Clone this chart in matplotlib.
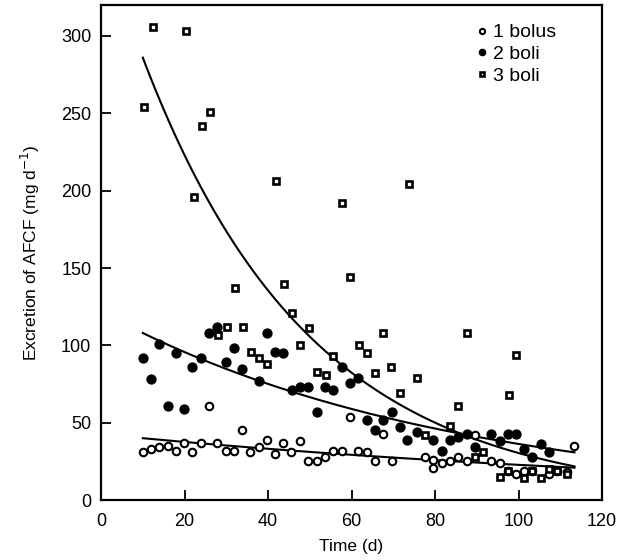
import numpy as np
import matplotlib
matplotlib.use("Agg")
import matplotlib.pyplot as plt

plt.rcParams['font.family'] = ['Liberation Sans', 'DejaVu Sans']

# 1 bolus (open circles)
t1 = [10.0, 12.0, 13.9, 16.0, 17.9, 19.9, 21.8, 23.9, 25.8, 27.8, 29.9, 31.8, 33.7, 35.7,
      37.8, 39.7, 41.6, 43.5, 45.6, 47.6, 49.5, 51.7, 53.6, 55.5, 57.7, 59.6, 61.5, 63.6,
      65.6, 67.5, 69.6, 77.5, 79.4, 79.4, 81.6, 83.5, 85.4, 87.6, 89.5, 93.5, 95.5, 97.4,
      99.5, 101.4, 103.3, 107.4, 109.3, 111.5, 113.4]
y1 = [31, 33, 34, 35, 32, 37, 31, 37, 61, 37, 32, 32, 45, 31,
      34, 39, 30, 37, 31, 38, 25, 25, 28, 32, 32, 54, 32, 31,
      25, 43, 25, 28, 26, 21, 24, 25, 28, 25, 42, 25, 24, 19,
      17, 19, 19, 17, 19, 18, 35]

# 2 boli (filled circles)
t2 = [10.0, 12.0, 13.9, 16.0, 17.9, 19.9, 21.8, 23.9, 25.8, 27.8, 29.9, 31.8, 33.7,
      37.8, 39.7, 41.6, 43.5, 45.7, 47.6, 49.5, 51.7, 53.6, 55.5, 57.7, 59.6, 61.5,
      63.6, 65.6, 67.5, 69.6, 71.5, 73.4, 75.6, 79.4, 81.6, 83.5, 85.4, 87.6, 89.5,
      93.5, 95.5, 97.4, 99.5, 101.4, 103.3, 105.5, 107.4]
y2 = [92, 78, 101, 61, 95, 59, 86, 92, 108, 112, 89, 98, 85,
      77, 108, 96, 95, 71, 73, 73, 57, 73, 71, 86, 76, 79,
      52, 45, 52, 57, 47, 39, 44, 39, 32, 39, 41, 43, 34,
      43, 38, 43, 43, 33, 28, 36, 31]

# 3 boli (squares)
t3 = [10.3, 12.4, 20.3, 22.2, 24.2, 26.1, 28.0, 30.1, 32.0, 34.0, 35.9, 37.8, 39.7,
      41.9, 43.8, 45.7, 47.6, 49.8, 51.7, 53.8, 55.5, 57.7, 59.6, 61.7, 63.6, 65.6,
      67.5, 69.4, 71.5, 73.7, 75.6, 77.5, 83.5, 85.4, 87.6, 89.5, 91.4, 95.5, 97.6,
      99.5, 97.4, 101.4, 103.3, 105.5, 107.4, 109.3, 111.5]
y3 = [254, 306, 303, 196, 242, 251, 107, 112, 137, 112, 96, 92, 88,
      206, 140, 121, 100, 111, 83, 81, 93, 192, 144, 100, 95, 82,
      108, 86, 69, 204, 79, 42, 48, 61, 108, 28, 31, 15, 68,
      94, 19, 14, 19, 14, 20, 19, 17]

labels = ['1 bolus', '2 boli', '3 boli']

# exponential fit curves: y = a * exp(-k * (t - 10))
fit_a = [40.0, 108.0, 286.0]
fit_k = [0.00626, 0.01212, 0.0249]
fit_range = [10.0, 113.4]

fig = plt.figure(figsize=(6.2, 5.6), dpi=100)
ax = fig.add_axes([0.163, 0.107, 0.808, 0.884])

ax.plot(t1, y1, linestyle='none', marker='o', ms=5.4, mfc='white', mec='black', mew=1.5,
        label=labels[0], zorder=3)
ax.plot(t2, y2, linestyle='none', marker='o', ms=6.4, mfc='black', mec='black', mew=1,
        label=labels[1], zorder=3)
ax.plot(t3, y3, linestyle='none', marker='s', ms=4.4, mfc='white', mec='black', mew=1.9,
        label=labels[2], zorder=3)

tt = np.linspace(fit_range[0], fit_range[1], 200)
for a, k in zip(fit_a, fit_k):
    ax.plot(tt, a * np.exp(-k * (tt - fit_range[0])), color='black', lw=1.5, zorder=2)

ax.set_xlim(0, 120)
ax.set_ylim(0, 320)
ax.set_xticks([0, 20, 40, 60, 80, 100, 120])
ax.set_yticks([0, 50, 100, 150, 200, 250, 300])
ax.tick_params(direction='in', length=7, width=1.3, labelsize=13)
ax.tick_params(axis='x', pad=9)
ax.tick_params(axis='y', pad=7)
for s in ax.spines.values():
    s.set_linewidth(1.6)

ax.set_xlabel('Time (d)', fontsize=12.5, labelpad=7)
ax.set_ylabel('Excretion of AFCF (mg d$^{-1}$)', fontsize=12.5, labelpad=14)

leg = ax.legend(loc='upper left', bbox_to_anchor=(0.735, 0.978), frameon=False,
                handlelength=0.5, handletextpad=0.3, labelspacing=0.22,
                borderaxespad=0, fontsize=14, markerscale=0.7)

fig.savefig('out.png', dpi=100)
